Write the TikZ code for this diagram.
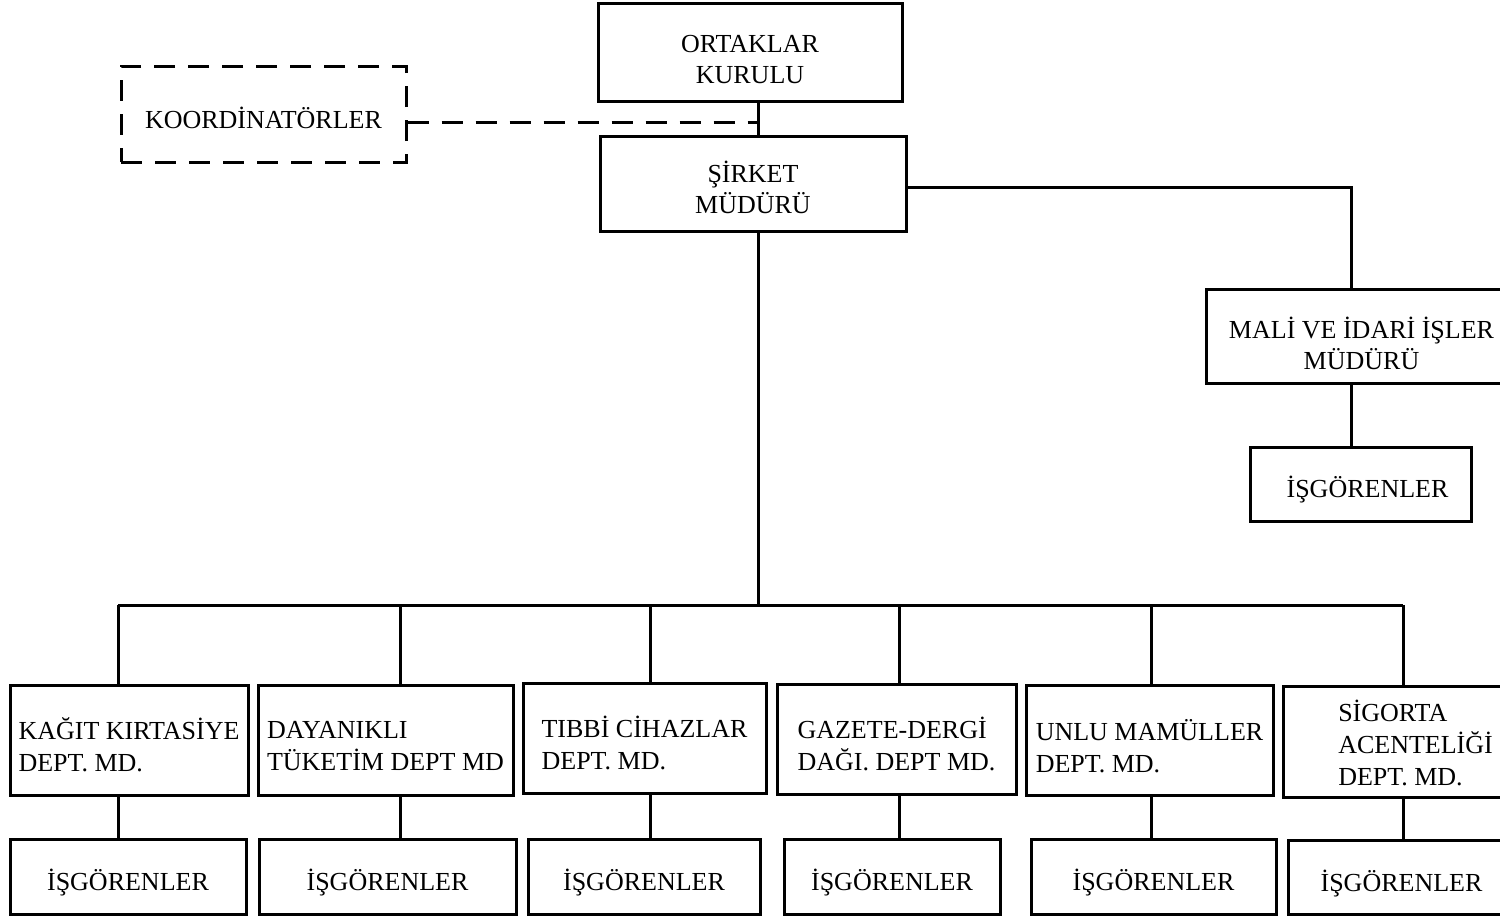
\documentclass[tikz,border=0pt]{standalone}
\usepackage{fontspec}
\setmainfont{Liberation Serif}
% invisible struts: a tall one opening the first line and a deep one
% closing the last line, so each text block sits at a chosen height
\newcommand\openstrut[1]{\rule{0pt}{#1pt}}
\newcommand\closestrut{\rule[-8pt]{0pt}{0pt}}
\begin{document}
\begin{tikzpicture}[x=1pt, y=-1pt]
\tikzset{
  unit/.style={draw, line width=3pt, inner sep=0pt, align=center,
               font=\fontsize{26}{31}\selectfont},
  dept/.style={unit, align=left, minimum height=110pt,
               font=\fontsize{26}{32}\selectfont},
  staff/.style={unit, minimum height=75pt},
  link/.style={line width=3pt},
  advisory/.style={line width=3pt, dash pattern=on 21pt off 13pt},
}
\useasboundingbox (0,0) rectangle (1500,918);
\clip (0,0) rectangle (1500,918);

% top of the hierarchy
\node[unit, minimum width=304pt, minimum height=98pt] (board) at (750,52)
  {\openstrut{39}ORTAKLAR\\KURULU\closestrut};
\node[unit, minimum width=306pt, minimum height=95pt] (gm) at (753,184)
  {\openstrut{35}ŞİRKET\\MÜDÜRÜ\closestrut};
\node[unit, advisory, minimum width=285pt, minimum height=96pt] (coord) at (263.5,114)
  {\openstrut{36}KOORDİNATÖRLER\closestrut};

% finance branch
\node[unit, minimum width=311pt, minimum height=94pt] (fin) at (1361.5,336)
  {\openstrut{43}MALİ VE İDARİ İŞLER\\MÜDÜRÜ\closestrut};
\node[unit, minimum width=221pt, minimum height=74pt] (finstaff) at (1360.5,484)
  {\hspace*{14pt}\openstrut{34}İŞGÖRENLER\closestrut};

% department heads
\node[dept, minimum width=238pt] (d1) at (129,740)
  {\openstrut{38}KAĞIT KIRTASİYE\\DEPT. MD.\closestrut};
\node[dept, minimum width=255pt] (d2) at (385.5,740)
  {\openstrut{37}DAYANIKLI\\TÜKETİM DEPT MD\closestrut};
\node[dept, minimum width=243pt] (d3) at (644.5,738.5)
  {\openstrut{37}TIBBİ CİHAZLAR\\DEPT. MD.\closestrut};
\node[dept, minimum width=239pt] (d4) at (896.5,739)
  {\openstrut{38}GAZETE-DERGİ\\DAĞI. DEPT MD.\closestrut};
\node[dept, minimum width=247pt] (d5) at (1149.5,740.5)
  {\openstrut{39}UNLU MAMÜLLER\\DEPT. MD.\closestrut};
\node[dept, minimum width=265pt, minimum height=111pt] (d6) at (1415.5,741.5)
  {\openstrut{31}SİGORTA\\ACENTELİĞİ\\DEPT. MD.\closestrut};

% staff of each department
\node[staff, minimum width=236pt] (w1) at (128,876.5)    {\openstrut{36}İŞGÖRENLER\closestrut};
\node[staff, minimum width=257pt] (w2) at (387.5,876.5)  {\openstrut{36}İŞGÖRENLER\closestrut};
\node[staff, minimum width=232pt] (w3) at (644,876.5)    {\openstrut{36}İŞGÖRENLER\closestrut};
\node[staff, minimum width=216pt] (w4) at (892,876.5)    {\openstrut{36}İŞGÖRENLER\closestrut};
\node[staff, minimum width=245pt] (w5) at (1153.5,876.5) {\openstrut{36}İŞGÖRENLER\closestrut};
\node[staff, minimum width=227pt, minimum height=74pt] (w6) at (1401.5,877) {\openstrut{36}İŞGÖRENLER\closestrut};

% guide coordinates for the connector lines
\coordinate (spine) at (758,605);
\coordinate (rc) at (1351,187);
\coordinate (c1) at (118,605);
\coordinate (c2) at (400,605);
\coordinate (c3) at (650,605);
\coordinate (c4) at (899,605);
\coordinate (c5) at (1151,605);
\coordinate (c6) at (1403,605);

% connectors
\draw[link] (board.south -| spine) -- (gm.north -| spine);
\draw[advisory] ([yshift=-8pt]coord.east) -- ([yshift=-8pt]coord.east -| spine);
\draw[link] (gm.east |- rc) -- (rc) -- (fin.north -| rc);
\draw[link] (fin.south -| rc) -- (finstaff.north -| rc);
\draw[link] (gm.south -| spine) -- (spine);
\draw[link] (c1) -- (c6);
\foreach \i in {1,...,6} {
  \draw[link] (c\i) -- (d\i.north -| c\i);
  \draw[link] (d\i.south -| c\i) -- (w\i.north -| c\i);
}
\end{tikzpicture}
\end{document}
